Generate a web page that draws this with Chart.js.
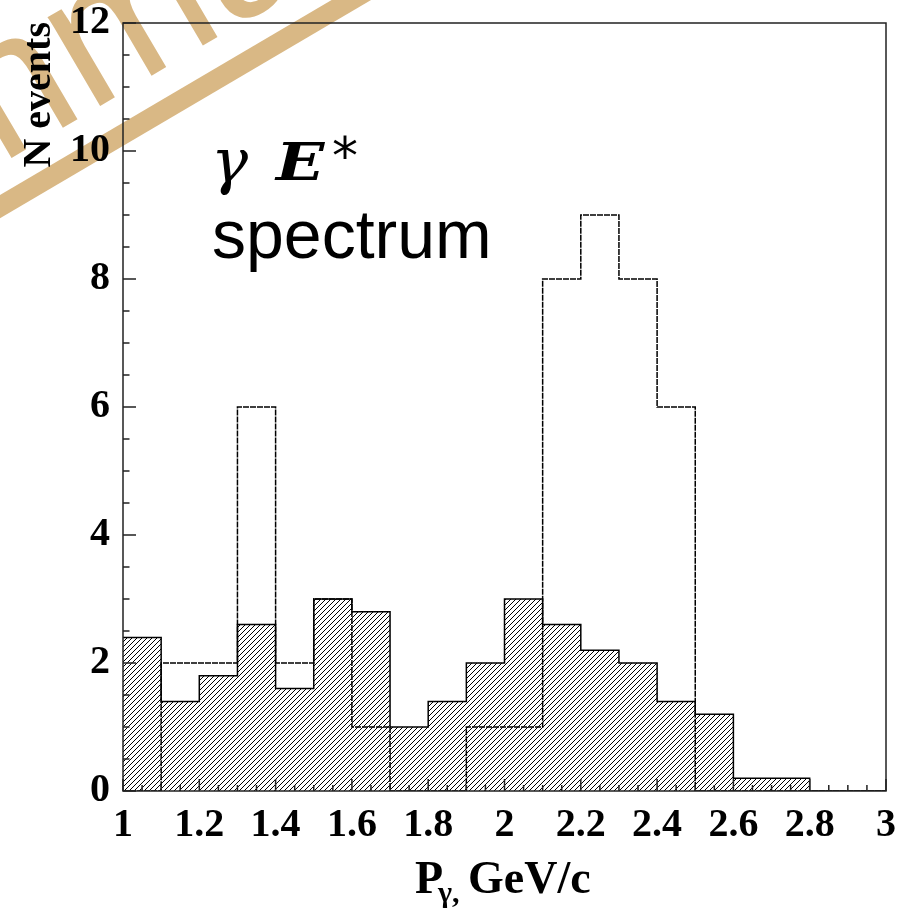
<!DOCTYPE html>
<html>
<head>
<meta charset="utf-8">
<script src="https://cdn.jsdelivr.net/npm/chart.js@4.4.1/dist/chart.umd.min.js"></script>
<style>
  html, body { margin: 0; padding: 0; background: #fff; }
  #wrap { width: 908px; height: 910px; }
</style>
</head>
<body>
<div id="wrap"><canvas id="histCanvas" width="908" height="910"></canvas></div>
<script>
// lower edges of the 0.1 GeV/c bins
const binLow = [1.0, 1.1, 1.2, 1.3, 1.4, 1.5, 1.6, 1.7, 1.8, 1.9,
                2.0, 2.1, 2.2, 2.3, 2.4, 2.5, 2.6, 2.7, 2.8, 2.9];
const hatchedCounts = [2.4, 1.4, 1.8, 2.6, 1.6, 3.0, 2.8, 1.0, 1.4, 2.0,
                       3.0, 2.6, 2.2, 2.0, 1.4, 1.2, 0.2, 0.2, 0, 0];
const openCounts = [0, 2, 2, 6, 2, 3, 1, 0, 0, 1,
                    1, 8, 9, 8, 6, 0, 0, 0, 0, 0];
const xTickLabels = ['1', '1.2', '1.4', '1.6', '1.8', '2', '2.2', '2.4', '2.6', '2.8', '3'];
const yTickLabels = ['0', '2', '4', '6', '8', '10', '12'];
const xMin = 1, xMax = 3, yMin = 0, yMax = 12;

const tan = 'rgb(217,184,133)';

// histogram -> points for a stepped line, closed at the upper edge
function toSteps(counts) {
    const pts = binLow.map((x, i) => ({ x: x, y: counts[i] }));
    pts.push({ x: xMax, y: 0 });
    return pts;
}

function makeHatch(ctx) {
    const p = 5;
    const c = document.createElement('canvas');
    c.width = p; c.height = p;
    const g = c.getContext('2d');
    g.strokeStyle = '#000';
    g.lineWidth = 1;
    g.beginPath();
    g.moveTo(0, p); g.lineTo(p, 0);
    g.moveTo(-1, 1); g.lineTo(1, -1);
    g.moveTo(p - 1, p + 1); g.lineTo(p + 1, p - 1);
    g.stroke();
    return ctx.createPattern(c, 'repeat');
}

const watermark = {
    id: 'watermark',
    beforeDraw(chart) {
        const ctx = chart.ctx;
        ctx.save();
        ctx.fillStyle = '#fff';
        ctx.fillRect(0, 0, chart.width, chart.height);
        ctx.translate(200, 89);
        ctx.rotate(-Math.atan(0.588));
        ctx.strokeStyle = tan;
        ctx.lineWidth = 20;
        ctx.beginPath();
        ctx.moveTo(-500, 0);
        ctx.lineTo(400, 0);
        ctx.stroke();
        ctx.fillStyle = tan;
        ctx.font = '195px "Liberation Sans"';
        ctx.textBaseline = 'alphabetic';
        ctx.fillText('Summary', -509, -36);
        ctx.restore();
    }
};

const decorations = {
    id: 'decorations',
    afterDatasetsDraw(chart) {
        const ctx = chart.ctx;
        const a = chart.chartArea;
        const xs = chart.scales.x, ys = chart.scales.y;
        ctx.save();
        ctx.strokeStyle = '#222';
        ctx.lineWidth = 1.5;

        // inward ticks
        ctx.beginPath();
        for (let k = 0; k <= 40; k++) {
            const px = xs.getPixelForValue(xMin + k * 0.05);
            const len = k % 4 === 0 ? 12 : 6;
            ctx.moveTo(px, a.bottom);
            ctx.lineTo(px, a.bottom - len);
        }
        for (let k = 0; k <= 24; k++) {
            const py = ys.getPixelForValue(yMin + k * 0.5);
            const len = k % 4 === 0 ? 13 : 6.5;
            ctx.moveTo(a.left, py);
            ctx.lineTo(a.left + len, py);
        }
        ctx.stroke();

        // frame
        ctx.strokeRect(a.left, a.top, a.right - a.left, a.bottom - a.top);

        ctx.fillStyle = '#000';
        ctx.textBaseline = 'alphabetic';

        // y title, aligned to top of the axis
        ctx.save();
        ctx.translate(50, a.top - 1);
        ctx.rotate(-Math.PI / 2);
        ctx.textAlign = 'right';
        ctx.font = 'bold 40px "Liberation Serif"';
        ctx.fillText('N events', 0, 0);
        ctx.restore();

        // x title: P_gamma, GeV/c
        ctx.textAlign = 'left';
        ctx.font = 'bold 46px "Liberation Serif"';
        ctx.fillText('P', 415, 893);
        ctx.font = 'bold 30px "Liberation Serif"';
        ctx.fillText('\u03b3,', 438, 902);
        ctx.font = 'bold 46px "Liberation Serif"';
        ctx.fillText('GeV/c', 468, 893);

        // annotation
        ctx.font = 'italic 62px "DejaVu Serif"';
        ctx.fillText('\u03b3', 211, 182);
        ctx.save();
        ctx.translate(276, 180);
        ctx.scale(1.22, 1);
        ctx.font = 'bold italic 52px "DejaVu Serif"';
        ctx.fillText('E', 0, 0);
        ctx.restore();
        ctx.font = '52px "DejaVu Sans"';
        ctx.fillText('*', 332, 174);
        ctx.font = '68px "Liberation Sans"';
        ctx.fillText('spectrum', 212, 258);
        ctx.restore();
    }
};

const ctx = document.getElementById('histCanvas').getContext('2d');
const hatch = makeHatch(ctx);
const tickFont = { family: 'Liberation Serif', weight: 'bold', size: 40 };

new Chart(ctx, {
    type: 'line',
    data: {
        datasets: [
            {
                label: 'all',
                data: toSteps(openCounts),
                stepped: 'before',
                borderColor: '#000',
                borderWidth: 1.5,
                borderDash: [6, 1],
                fill: false,
                pointRadius: 0,
                order: 1
            },
            {
                label: 'background',
                data: toSteps(hatchedCounts),
                stepped: 'before',
                borderColor: '#000',
                borderWidth: 1.5,
                backgroundColor: hatch,
                fill: 'origin',
                pointRadius: 0,
                order: 2
            }
        ]
    },
    options: {
        responsive: false,
        animation: false,
        devicePixelRatio: 1,
        layout: { padding: { top: 23, right: 22, left: 0, bottom: 0 } },
        plugins: {
            legend: { display: false },
            tooltip: { enabled: false }
        },
        scales: {
            x: {
                type: 'linear',
                min: xMin,
                max: xMax,
                grid: { display: false, drawTicks: false },
                border: { display: false },
                ticks: {
                    stepSize: 0.2,
                    padding: 11,
                    color: '#000',
                    font: tickFont,
                    maxRotation: 0,
                    autoSkip: false,
                    callback: (v, i) => xTickLabels[i]
                },
                afterFit: s => {
                    s.height = 119;
                    s.paddingLeft = 0; s.paddingRight = 0;
                }
            },
            y: {
                type: 'linear',
                min: yMin,
                max: yMax,
                grid: { display: false, drawTicks: false },
                border: { display: false },
                ticks: {
                    stepSize: 2,
                    padding: 13,
                    color: '#000',
                    font: tickFont,
                    callback: (v, i) => yTickLabels[i]
                },
                afterFit: s => {
                    s.width = 123;
                    s.paddingTop = 0; s.paddingBottom = 0;
                }
            }
        }
    },
    plugins: [watermark, decorations]
});
</script>
</body>
</html>
